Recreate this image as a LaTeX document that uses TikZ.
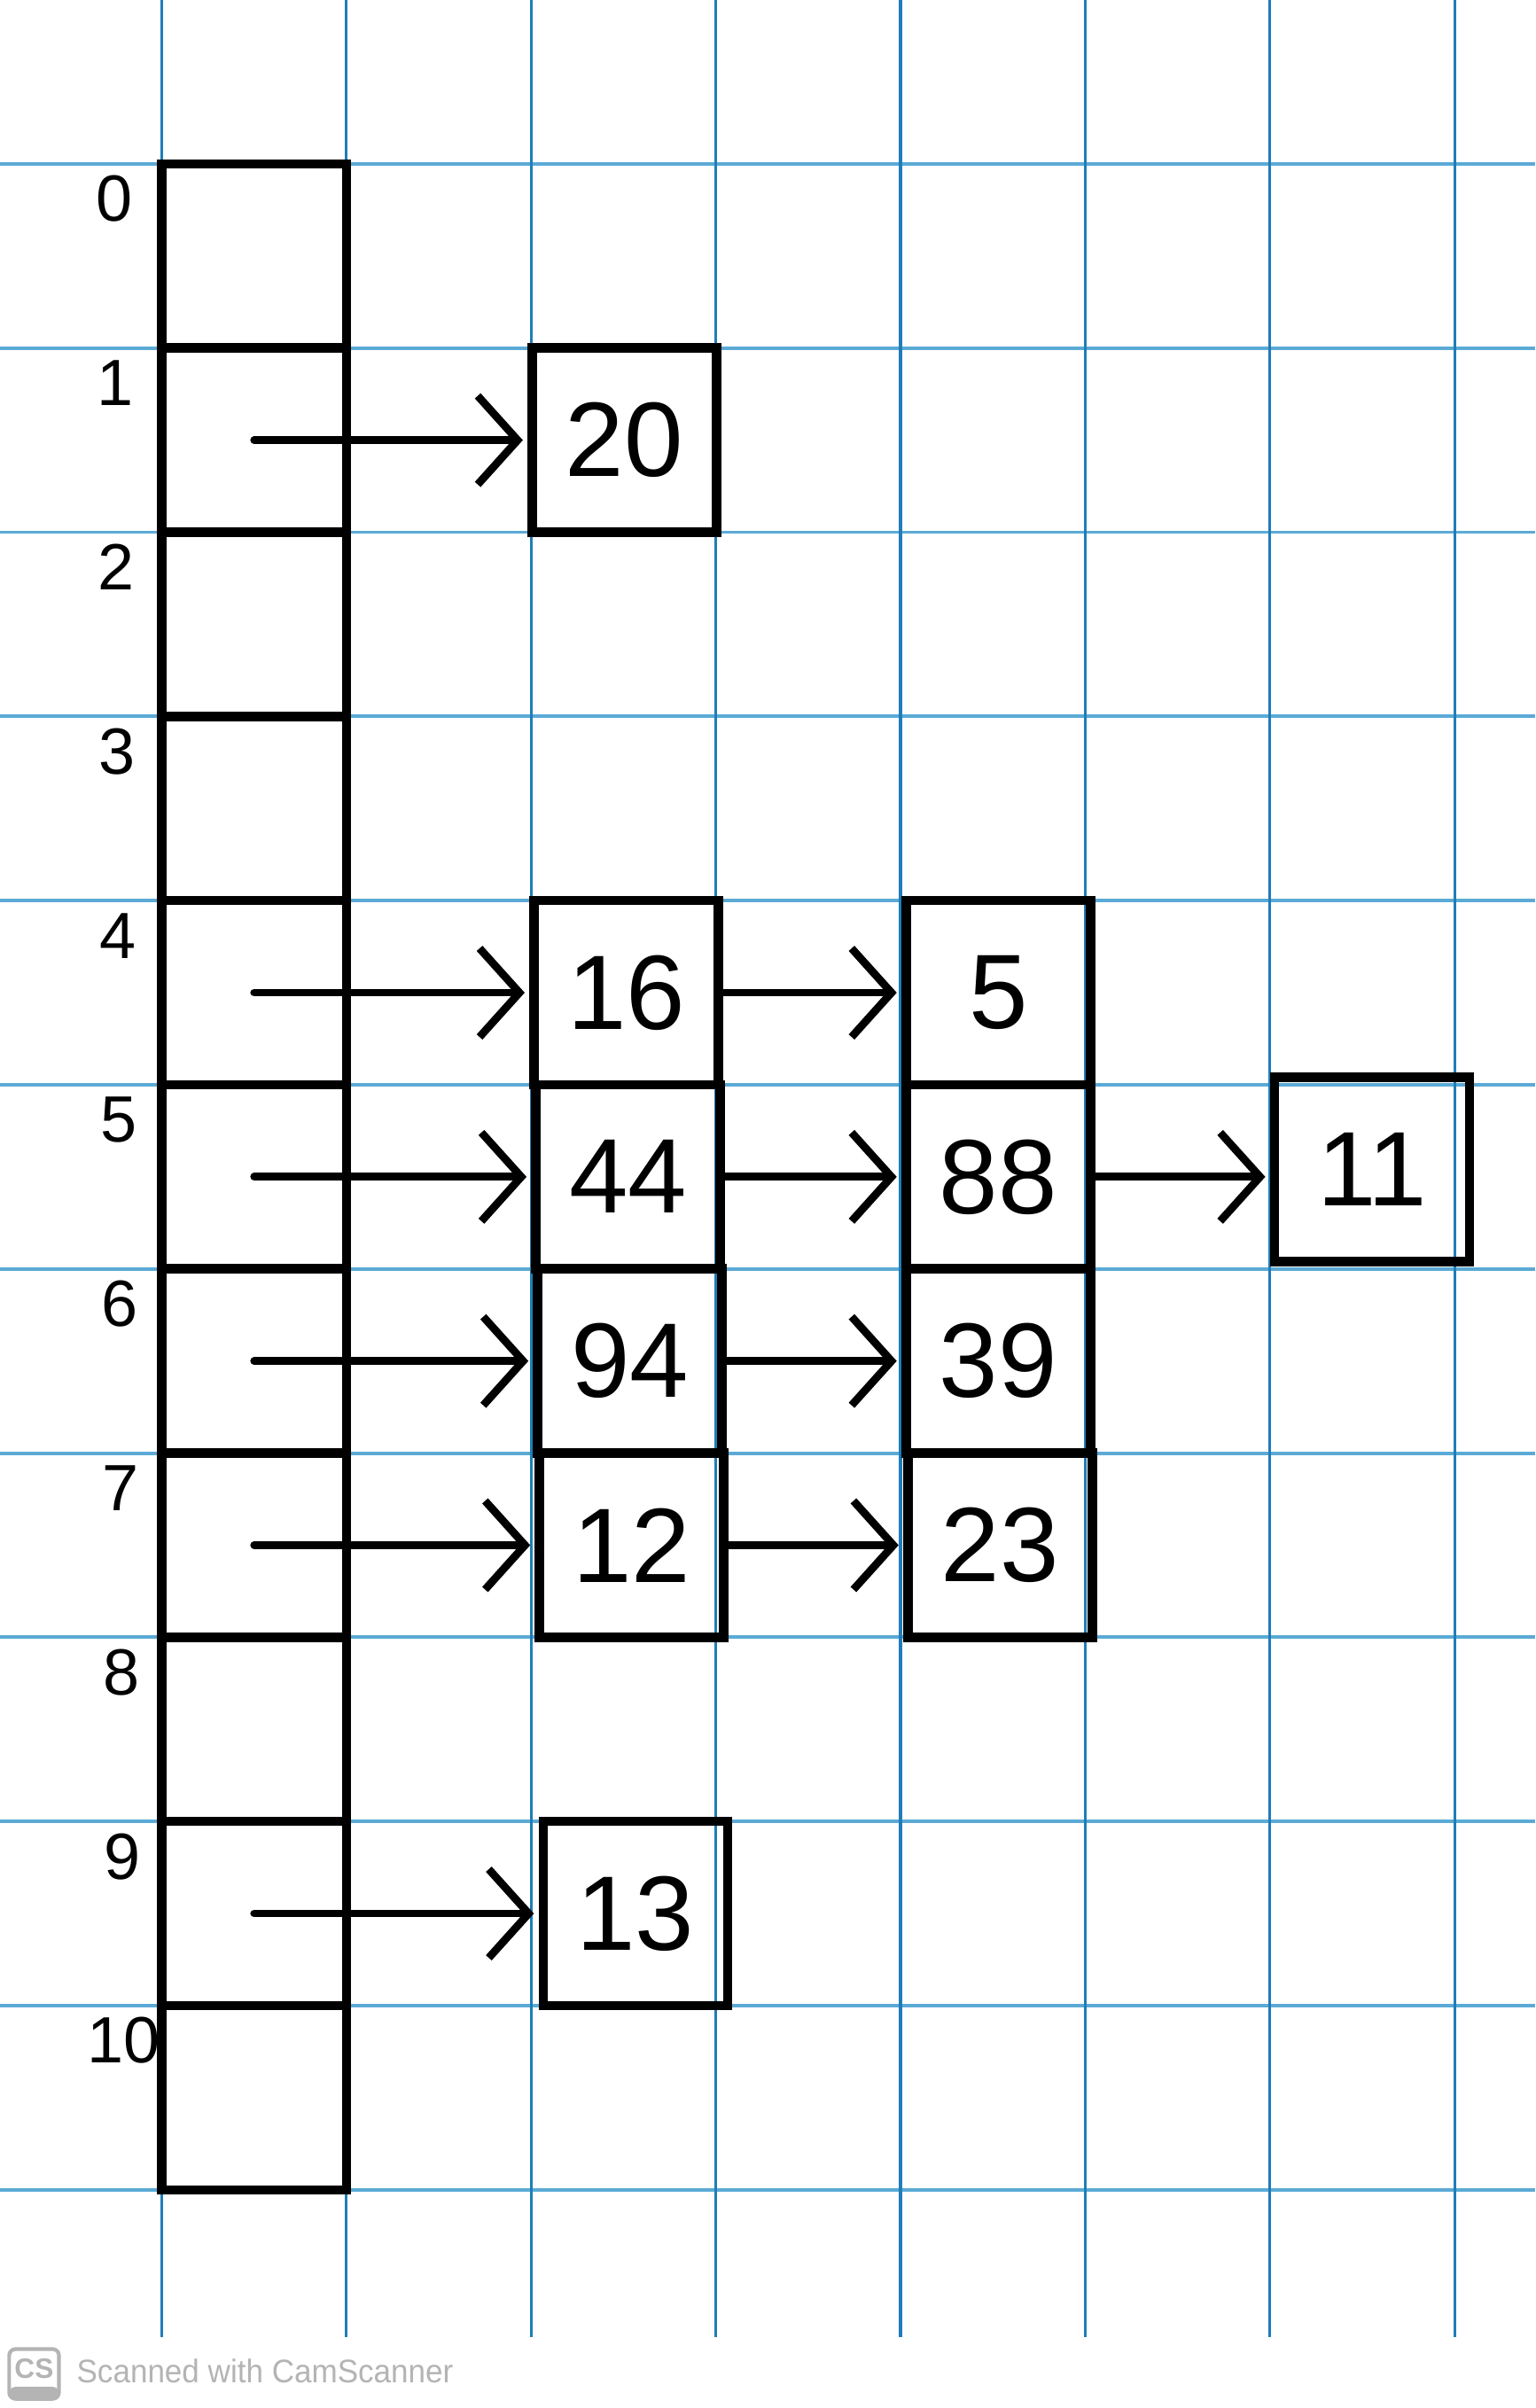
\documentclass[tikz,border=0pt]{standalone}
\usepackage{fontspec}
\setmainfont{Liberation Sans}
\usepackage{tikz}
\usetikzlibrary{arrows.meta,positioning}
\definecolor{gridblue}{HTML}{1F7DB8}
\definecolor{ruleblue}{HTML}{5BAAD6}
\definecolor{scangray}{HTML}{B4B4B4}

\tikzset{
  cell/.style={draw, line width=3pt, minimum width=2.08cm, minimum height=2.078cm,
               outer sep=0pt, inner sep=0pt, font=\fontsize{34}{38}\selectfont},
  bucket/.style={cell},
  ptr/.style={-{Straight Barb[length=4.5mm,width=10mm]}, line width=2.5pt,
              line cap=round, shorten >=3pt},
  idx/.style={font=\fontsize{21}{24}\selectfont}
}

\begin{document}
\begin{tikzpicture}[x=2.078cm, y=-2.078cm]
  \useasboundingbox (0,0) rectangle (8.335,13.075);
  % Grid paper
  \foreach \k in {0,...,11}
    \draw[ruleblue, line width=1.1pt] (0,0.89+\k) -- (8.335,0.89+\k);
  \foreach \k in {0,...,7}
    \draw[gridblue, line width=0.9pt] (0.877+1.003*\k,0) -- (0.877+1.003*\k,12.69);
  % Hash table buckets
  \foreach \k in {0,...,10} {
    \node[bucket] (b\k) at (1.38,1.39+\k) {};
    \node[idx] (i\k) at (0.62+0.005*\k,1.08+\k) {\k};
  }
  % Chained entries
  \node[cell] (n20) at (3.39,2.39)  {20};
  \node[cell] (n16) at (3.40,5.39)  {16};
  \node[cell] (n44) at (3.41,6.39)  {44};
  \node[cell] (n94) at (3.42,7.39)  {94};
  \node[cell] (n12) at (3.43,8.39)  {12};
  \node[cell] (n5)  at (5.42,5.39)  {5};
  \node[cell] (n88) at (5.42,6.39)  {88};
  \node[cell] (n39) at (5.42,7.39)  {39};
  \node[cell] (n23) at (5.43,8.39)  {23};
  \node[cell, minimum width=2.2cm] (n11) at (7.45,6.35) {11};
  \node[cell] (n13) at (3.45,10.39) {13};
  % Pointers
  \draw[ptr] (b1.center) -- (n20.west);
  \draw[ptr] (b4.center) -- (n16.west);
  \draw[ptr] (b5.center) -- (n44.west);
  \draw[ptr] (b6.center) -- (n94.west);
  \draw[ptr] (b7.center) -- (n12.west);
  \draw[ptr] (b9.center) -- (n13.west);
  \draw[ptr] (n16.east) -- (n5.west);
  \draw[ptr] (n44.east) -- (n88.west);
  \draw[ptr] (n94.east) -- (n39.west);
  \draw[ptr] (n12.east) -- (n23.west);
  \draw[ptr] (n88.east) -- (n11.west |- n88.east);
  % Scanner stamp
  \draw[scangray, line width=1.2pt, rounded corners=2pt] (0.05,12.755) rectangle (0.32,13.025);
  \fill[scangray, rounded corners=2pt] (0.05,12.96) rectangle (0.32,13.025);
  \node[scangray, font=\bfseries\fontsize{9}{9}\selectfont] (cslogo) at (0.185,12.86) {CS};
  \node[scangray, anchor=west, font=\fontsize{10.5}{12}\selectfont, xscale=0.95]
    (scanner) at (0.36,12.875) {Scanned with CamScanner};
\end{tikzpicture}
\end{document}
